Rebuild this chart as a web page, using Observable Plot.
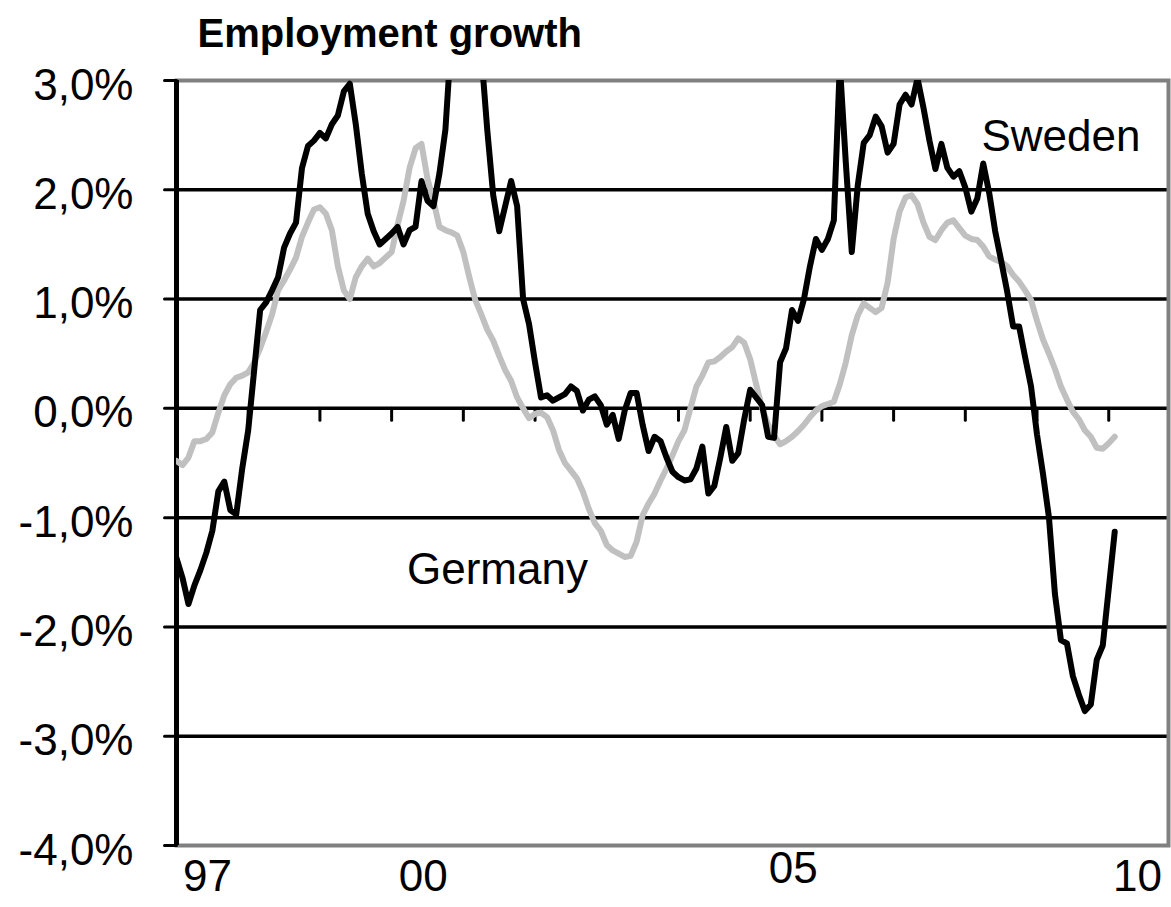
<!DOCTYPE html>
<html>
<head>
<meta charset="utf-8">
<script src="https://cdn.jsdelivr.net/npm/d3@7"></script>
<script src="https://cdn.jsdelivr.net/npm/@observablehq/plot@0.6"></script>
<style>
  html, body { margin: 0; padding: 0; background: #ffffff; }
  svg { display: block; }
</style>
</head>
<body>
<div id="chart"></div>
<script>
// Monthly employment growth (% y/y), January 1997 onwards
const startYear = 1997;
const sweden = [
  -1.37, -1.55, -1.79, -1.62, -1.48, -1.32, -1.12, -0.76, -0.67, -0.93,
  -0.97, -0.55, -0.20, 0.35, 0.90, 0.97, 1.08, 1.20, 1.47, 1.60,
  1.70, 2.20, 2.40, 2.45, 2.52, 2.47, 2.60, 2.68, 2.90, 2.97,
  2.60, 2.15, 1.78, 1.62, 1.50, 1.55, 1.60, 1.66, 1.50, 1.63,
  1.66, 2.08, 1.90, 1.85, 2.15, 2.55, 3.40, 3.70, 3.80, 3.60,
  3.50, 3.25, 2.55, 1.95, 1.62, 1.85, 2.08, 1.85, 1.00, 0.77,
  0.42, 0.10, 0.12, 0.07, 0.10, 0.13, 0.20, 0.16, -0.02, 0.08,
  0.11, 0.03, -0.15, -0.06, -0.28, -0.02, 0.14, 0.14, -0.15, -0.39,
  -0.26, -0.30, -0.45, -0.58, -0.63, -0.66, -0.65, -0.55, -0.35, -0.78,
  -0.71, -0.45, -0.17, -0.48, -0.41, -0.10, 0.17, 0.10, 0.03, -0.26,
  -0.27, 0.42, 0.55, 0.90, 0.80, 1.00, 1.30, 1.55, 1.45, 1.55,
  1.72, 3.15, 2.25, 1.43, 2.04, 2.43, 2.50, 2.67, 2.58, 2.34,
  2.42, 2.78, 2.87, 2.78, 3.02, 2.75, 2.45, 2.19, 2.42, 2.20,
  2.12, 2.17, 2.02, 1.80, 1.92, 2.24, 1.97, 1.62, 1.35, 1.07,
  0.75, 0.75, 0.47, 0.20, -0.24, -0.60, -1.00, -1.70, -2.12, -2.15,
  -2.45, -2.62, -2.77, -2.71, -2.30, -2.17, -1.65, -1.13
];
const germany = [
  -0.48, -0.52, -0.45, -0.30, -0.30, -0.28, -0.22, -0.04, 0.12, 0.22,
  0.28, 0.30, 0.33, 0.42, 0.55, 0.70, 0.86, 1.08, 1.17, 1.27,
  1.38, 1.57, 1.70, 1.82, 1.84, 1.78, 1.63, 1.30, 1.08, 1.00,
  1.20, 1.30, 1.37, 1.30, 1.33, 1.38, 1.43, 1.68, 1.90, 2.20,
  2.38, 2.42, 2.10, 1.90, 1.66, 1.63, 1.61, 1.58, 1.43, 1.20,
  0.99, 0.86, 0.72, 0.62, 0.48, 0.35, 0.25, 0.10, 0.00, -0.09,
  -0.05, -0.04, -0.08, -0.20, -0.38, -0.50, -0.57, -0.64, -0.76, -0.92,
  -1.05, -1.12, -1.25, -1.30, -1.33, -1.36, -1.35, -1.22, -0.98, -0.87,
  -0.78, -0.66, -0.55, -0.43, -0.30, -0.20, 0.00, 0.20, 0.30, 0.42,
  0.43, 0.47, 0.52, 0.56, 0.64, 0.60, 0.45, 0.22, 0.00, -0.15,
  -0.25, -0.33, -0.30, -0.26, -0.21, -0.15, -0.08, -0.02, 0.02, 0.04,
  0.06, 0.22, 0.42, 0.67, 0.85, 0.96, 0.92, 0.88, 0.92, 1.15,
  1.55, 1.80, 1.93, 1.95, 1.87, 1.70, 1.57, 1.54, 1.63, 1.70,
  1.72, 1.65, 1.58, 1.55, 1.54, 1.48, 1.39, 1.36, 1.34, 1.30,
  1.22, 1.16, 1.08, 0.99, 0.80, 0.63, 0.50, 0.36, 0.20, 0.08,
  -0.03, -0.10, -0.20, -0.26, -0.36, -0.37, -0.32, -0.26
];
const yTicks = [-4, -3, -2, -1, 0, 1, 2, 3];
const gridValues = [-3, -2, -1, 0, 1, 2];
const xLabelTexts = ["97", "00", "05", "10"];
const xLabelMonths = [5.2, 41.3, 103.2, 160.8];   // where each year label sits along the month axis
const totalMonths = 166;                            // Jan 1997 .. Nov 2010 category span
const title = "Employment growth";

const rows = (arr, name) => arr.map((v, i) => ({i, v, series: name}));
const swedenRows = rows(sweden, "Sweden");
const germanyRows = rows(germany, "Germany");
const yearLabels = xLabelTexts.map((text, k) => ({text, month: xLabelMonths[k]}));
const xTickMonths = d3.range(12, totalMonths, 12);
const fmt = d => d.toFixed(1).replace(".", ",") + "%";
const tickShape = {draw(context, l) { context.moveTo(0, 0); context.lineTo(0, -l); }};

const chart = Plot.plot({
  width: 1171,
  height: 907,
  marginLeft: 176,
  marginRight: 3,
  marginTop: 80,
  marginBottom: 62,
  style: {fontFamily: "'Liberation Sans', Arial, Helvetica, sans-serif", background: "#ffffff", color: "#000"},
  x: {domain: [0, totalMonths], axis: null},
  y: {domain: [-4, 3], axis: null},
  marks: [
    Plot.ruleY(gridValues, {stroke: "#000", strokeWidth: 3.5}),
    Plot.frame({stroke: "#808080", strokeWidth: 4}),
    Plot.ruleX([0], {stroke: "#000", strokeWidth: 5}),
    Plot.vector(xTickMonths, {x: d => d, y: 0, length: 12, rotate: 180, anchor: "start", shape: tickShape, stroke: "#000", strokeWidth: 3}),
    Plot.vector(yTicks, {y: d => d, frameAnchor: "left", length: 12, rotate: 270, anchor: "start", shape: tickShape, stroke: "#000", strokeWidth: 3}),
    Plot.text(yTicks, {y: d => d, frameAnchor: "left", text: fmt, textAnchor: "end", dx: -43, dy: 5, fontSize: 44}),
    Plot.line(germanyRows, {x: "i", y: "v", stroke: "#c0c0c0", strokeWidth: 6, clip: true}),
    Plot.line(swedenRows, {x: "i", y: "v", stroke: "#000", strokeWidth: 6, clip: true}),
    Plot.text(yearLabels.filter(d => d.text !== "05"), {x: "month", frameAnchor: "bottom", text: "text", dy: 45, fontSize: 44}),
    Plot.text(yearLabels.filter(d => d.text === "05"), {x: "month", frameAnchor: "bottom", text: "text", dy: 37, fontSize: 44}),
    Plot.text(["Sweden"], {x: 148, y: 2.48, text: d => d, fontSize: 44}),
    Plot.text(["Germany"], {x: 53.7, y: -1.48, text: d => d, fontSize: 44}),
    Plot.text([title], {frameAnchor: "top-left", text: d => d, textAnchor: "start", lineAnchor: "bottom", dx: 21, dy: -34, fontSize: 40, fontWeight: "bold"})
  ]
});
document.getElementById("chart").appendChild(chart);
</script>
</body>
</html>
